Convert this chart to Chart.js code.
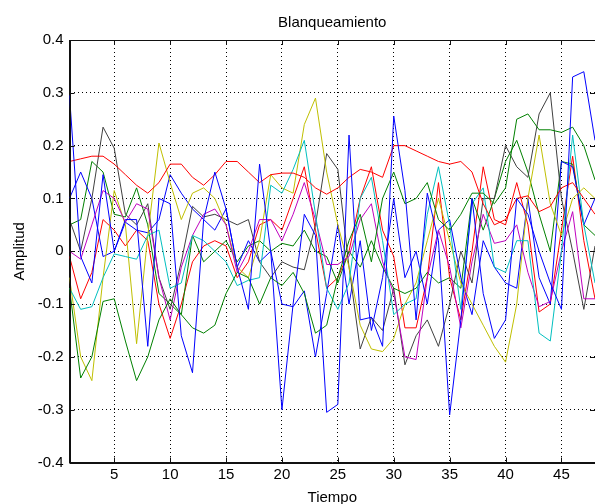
<!DOCTYPE html>
<html>
<head>
<meta charset="utf-8">
<script src="https://cdn.jsdelivr.net/npm/chart.js@4/dist/chart.umd.min.js"></script>
<style>
  html, body { margin: 0; padding: 0; background: #fff; overflow: hidden; }
  canvas { display: block; }
</style>
</head>
<body>
<canvas id="chart" width="600" height="507"></canvas>
<script>
const TIEMPO = [1, 2, 3, 4, 5, 6, 7, 8, 9, 10, 11, 12, 13, 14, 15, 16, 17, 18, 19, 20, 21, 22, 23, 24,
  25, 26, 27, 28, 29, 30, 31, 32, 33, 34, 35, 36, 37, 38, 39, 40, 41, 42, 43, 44, 45, 46, 47, 48];
const X_TICKS = [5, 10, 15, 20, 25, 30, 35, 40, 45];

// one row per component, MATLAB default colour order b g r c m y k b g r
const S1 = [0.295, -0.01, -0.06, 0.145, 0.0, 0.06, 0.06, -0.18, 0.1, 0.09, -0.16, -0.23, 0.06, 0.15, 0.08, -0.03,
  -0.11, 0.165, 0.0, -0.3, -0.1, 0.07, 0.03, -0.305, -0.29, 0.22, -0.13, -0.125, -0.18, 0.256, 0.115, -0.13,
  0.11, 0.02, -0.31, -0.13, 0.1, -0.08, -0.165, -0.13, 0.1, 0.07, 0.0, -0.06, -0.11, 0.33, 0.34, 0.21];
const S2 = [-0.07, -0.24, -0.2, -0.095, -0.09, -0.17, -0.245, -0.2, -0.13, -0.09, -0.12, -0.145, -0.155, -0.14, -0.08, -0.04,
  -0.05, -0.1, -0.05, -0.065, -0.04, -0.08, -0.155, -0.14, -0.05, 0.02, 0.07, -0.02, 0.1, 0.15, 0.09, 0.1,
  0.13, 0.06, 0.04, 0.07, 0.11, 0.11, 0.09, 0.12, 0.25, 0.26, 0.23, 0.23, 0.225, 0.235, 0.2, 0.135];
const S3 = [0.17, 0.175, 0.18, 0.18, 0.165, 0.145, 0.125, 0.11, 0.13, 0.165, 0.165, 0.14, 0.125, 0.145, 0.17, 0.17,
  0.15, 0.13, 0.145, 0.148, 0.148, 0.14, 0.12, 0.108, 0.12, 0.14, 0.155, 0.15, 0.14, 0.2, 0.2, 0.19,
  0.18, 0.17, 0.165, 0.17, 0.15, 0.09, 0.05, 0.06, 0.1, 0.105, 0.075, 0.085, 0.12, 0.13, 0.1, 0.07];
const S4 = [-0.07, -0.11, -0.105, -0.05, -0.005, -0.01, -0.015, 0.03, 0.04, -0.07, -0.06, 0.03, 0.02, 0.0, -0.02, -0.065,
  -0.055, -0.05, 0.125, 0.11, 0.155, 0.21, 0.07, -0.07, -0.11, -0.06, 0.1, 0.14, 0.02, -0.12, -0.1, -0.09,
  0.07, 0.16, 0.05, -0.11, 0.09, 0.12, -0.03, -0.04, 0.02, 0.02, -0.155, -0.17, 0.0, 0.22, 0.05, -0.06];
const S5 = [0.0, -0.015, 0.05, 0.115, 0.1, 0.055, 0.09, 0.08, -0.05, -0.13, -0.03, 0.03, 0.07, 0.08, 0.05, -0.04,
  0.0, 0.06, 0.06, 0.02, 0.07, 0.13, 0.06, -0.025, -0.025, -0.01, 0.06, 0.09, -0.02, -0.08, -0.2, -0.205,
  -0.05, 0.04, -0.03, -0.145, -0.02, 0.07, 0.015, 0.02, 0.05, -0.04, -0.105, -0.095, 0.0, 0.075, -0.09, -0.09];
const S6 = [-0.05, -0.2, -0.245, -0.05, 0.115, 0.05, -0.175, 0.03, 0.205, 0.13, 0.06, 0.11, 0.12, 0.1, 0.05, -0.03,
  -0.05, 0.02, 0.145, 0.12, 0.11, 0.24, 0.29, 0.15, 0.05, -0.03, -0.14, -0.185, -0.19, -0.165, -0.1, -0.06,
  0.02, 0.1, 0.02, -0.06, -0.1, -0.14, -0.18, -0.21, -0.1, 0.1, 0.22, 0.09, 0.03, 0.1, 0.12, 0.1];
const S7 = [0.06, 0.0, 0.1, 0.235, 0.195, 0.07, 0.05, 0.09, -0.05, -0.11, -0.02, 0.085, 0.065, 0.07, 0.06, 0.05,
  0.06, -0.02, -0.05, -0.02, -0.03, -0.035, 0.05, 0.185, 0.155, -0.03, -0.185, -0.125, -0.15, -0.07, -0.215, -0.16,
  -0.13, -0.18, -0.1, 0.0, -0.06, 0.1, 0.1, 0.2, 0.16, 0.14, 0.26, 0.3, 0.1, 0.0, -0.11, 0.01];
const S8 = [0.1, 0.15, 0.1, -0.01, 0.0, 0.055, 0.04, 0.035, 0.06, 0.145, 0.11, 0.08, 0.06, 0.04, 0.08, -0.03,
  0.02, -0.02, 0.0, -0.1, -0.105, -0.075, -0.2, -0.08, 0.05, -0.1, 0.02, -0.15, -0.05, 0.1, -0.05, 0.0,
  -0.1, 0.04, 0.06, -0.05, -0.12, 0.02, -0.03, -0.06, -0.07, 0.1, -0.05, -0.1, 0.17, 0.16, 0.05, 0.1];
const S9 = [0.05, 0.06, 0.17, 0.15, 0.07, 0.065, 0.12, 0.05, -0.08, -0.1, -0.12, 0.03, -0.02, 0.0, 0.02, -0.02,
  0.01, 0.02, 0.0, 0.015, 0.01, 0.04, 0.0, -0.01, -0.06, 0.0, -0.03, 0.02, -0.03, -0.07, -0.08, -0.07,
  -0.04, -0.06, -0.05, -0.07, 0.1, 0.04, 0.1, 0.17, 0.21, 0.15, 0.07, 0.0, 0.17, 0.165, 0.05, 0.03];
const S10 = [-0.01, -0.09, -0.04, 0.06, 0.04, 0.01, 0.04, 0.02, -0.1, -0.165, -0.1, -0.02, 0.01, 0.02, 0.01, -0.05,
  -0.02, 0.05, 0.06, 0.04, 0.1, 0.16, 0.04, -0.07, -0.05, 0.0, 0.1, 0.16, 0.04, -0.01, -0.145, -0.145,
  -0.05, 0.13, -0.05, -0.13, 0.0, 0.16, 0.06, 0.05, 0.13, 0.05, -0.115, -0.1, 0.04, 0.18, 0.02, -0.09];

const SERIES = [S1, S2, S3, S4, S5, S6, S7, S8, S9, S10];
const COLORS = ['#0000ff', '#008000', '#ff0000', '#00bfbf', '#bf00bf', '#bfbf00', '#404040',
  '#0000ff', '#008000', '#ff0000'];

const FONT = { family: "'Liberation Sans', Arial, sans-serif", size: 15, weight: 'normal' };

// MATLAB style: solid box and tick marks pointing inward
const boxTicks = {
  id: 'boxTicks',
  afterDatasetsDraw(chart) {
    const { ctx, chartArea: a, scales: { x, y } } = chart;
    ctx.save();
    ctx.strokeStyle = '#111';
    ctx.lineWidth = 1;
    ctx.beginPath();
    X_TICKS.forEach(v => {
      const px = Math.round(x.getPixelForValue(v)) + 0.5;
      ctx.moveTo(px, a.bottom); ctx.lineTo(px, a.bottom - 5);
      ctx.moveTo(px, a.top); ctx.lineTo(px, a.top + 5);
    });
    y.ticks.forEach(t => {
      const py = Math.round(y.getPixelForValue(t.value)) + 0.5;
      ctx.moveTo(a.left, py); ctx.lineTo(a.left + 5, py);
      ctx.moveTo(a.right, py); ctx.lineTo(a.right - 5, py);
    });
    ctx.stroke();
    ctx.strokeRect(Math.round(a.left) + 0.5, Math.round(a.top) + 0.5,
      Math.round(a.right - a.left), Math.round(a.bottom - a.top));
    ctx.restore();
  }
};

new Chart(document.getElementById('chart'), {
  type: 'line',
  data: {
    datasets: SERIES.map((s, i) => ({
      data: s.map((v, k) => ({ x: TIEMPO[k], y: v })),
      borderColor: COLORS[i],
      borderWidth: 1,
      pointRadius: 0,
      tension: 0,
      fill: false
    }))
  },
  options: {
    responsive: false,
    animation: false,
    devicePixelRatio: 1,
    layout: { padding: { right: 5 } },
    plugins: {
      legend: { display: false },
      tooltip: { enabled: false },
      title: {
        display: true,
        fullSize: false,
        text: 'Blanqueamiento',
        color: '#000',
        font: FONT,
        padding: { top: 14, bottom: 8 }
      }
    },
    scales: {
      x: {
        type: 'linear',
        min: 1,
        max: 48,
        afterBuildTicks: s => { s.ticks = X_TICKS.map(v => ({ value: v })); },
        afterFit: s => { s.height = 44.5; },
        ticks: { color: '#000', font: FONT, padding: 3, maxRotation: 0 },
        grid: { color: '#000', lineWidth: 1, drawTicks: false },
        border: { display: true, color: '#111', dash: [1, 3] },
        title: { display: true, text: 'Tiempo', color: '#000', font: FONT, padding: { top: 0, bottom: 0 } }
      },
      y: {
        min: -0.4,
        max: 0.4,
        afterFit: s => { s.width = 69.5; },
        ticks: {
          stepSize: 0.1,
          color: '#000',
          font: FONT,
          padding: 6,
          callback: v => Math.abs(v) < 1e-9 ? '0' : v.toFixed(1)
        },
        grid: { color: '#000', lineWidth: 1, drawTicks: false },
        border: { display: true, color: '#111', dash: [1, 3] },
        title: { display: true, text: 'Amplitud', color: '#000', font: FONT, padding: { top: 11, bottom: 0 } }
      }
    }
  },
  plugins: [boxTicks]
});
</script>
</body>
</html>
